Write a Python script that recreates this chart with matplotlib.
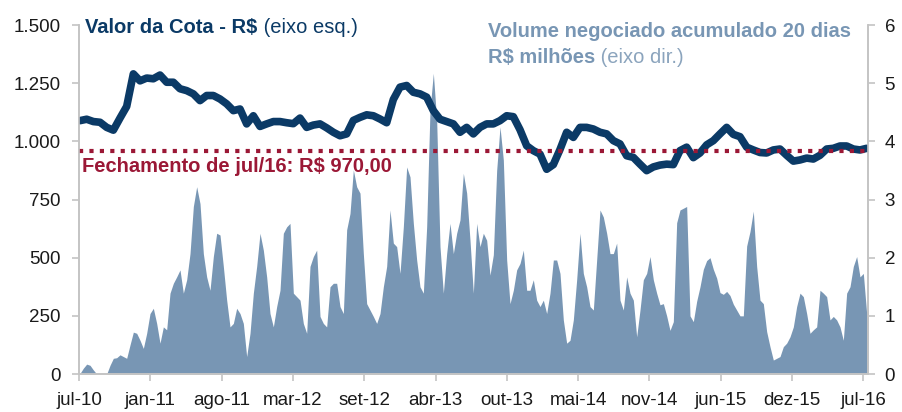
import numpy as np
import matplotlib
matplotlib.use('Agg')
import matplotlib.pyplot as plt
from matplotlib.ticker import FuncFormatter

plt.rcParams['font.family'] = ['Liberation Sans', 'DejaVu Sans']

# volume negociado acumulado 20 dias (R$ milhoes), amostras igualmente espacadas
volume = [
    0.01, 0.1, 0.17, 0.15, 0.07, 0.0, 0.0, 0.0, 0.0, 0.15,
    0.27, 0.28, 0.33, 0.3, 0.27, 0.5, 0.72, 0.7, 0.58, 0.44,
    0.7, 1.04, 1.13, 0.87, 0.53, 0.81, 0.76, 1.39, 1.56, 1.67,
    1.79, 1.39, 1.62, 2.07, 2.88, 3.22, 2.93, 2.07, 1.67, 1.44,
    2.02, 2.42, 2.39, 1.85, 1.27, 0.81, 0.87, 1.13, 1.04, 0.87,
    0.3, 0.7, 1.39, 1.85, 2.42, 2.13, 1.67, 1.04, 0.81,
    1.16, 1.44, 2.42, 2.53, 2.59, 1.39, 1.33, 1.27, 0.87, 0.7,
    1.85, 2.02, 2.13, 0.99, 0.87, 0.81, 1.5, 1.56, 1.56, 1.16,
    1.04, 2.48, 2.76, 3.51, 3.22, 3.11, 2.07, 1.21, 1.1, 0.99,
    0.87, 1.04, 1.5, 1.85, 2.82, 2.25, 2.19, 1.73, 2.53, 3.56,
    3.39, 2.59, 1.96, 1.5, 1.39, 2.53, 4.54, 5.17, 4.37, 2.19,
    1.39, 2.07, 2.59, 2.07, 2.42, 2.65, 3.45, 3.11,
    2.3, 1.39, 2.59, 2.19, 2.42, 2.3, 1.7, 2.05, 3.5, 4.25,
    3.68, 1.96, 1.21, 1.44, 1.79, 1.9, 2.13, 1.44, 1.44, 1.62,
    1.27, 1.16, 1.27, 1.04, 1.39, 1.96, 1.96, 1.73, 0.93, 0.53,
    0.58, 0.93, 1.62, 2.42, 1.73, 1.5, 1.16, 1.1, 1.96, 2.82,
    2.7, 2.42, 2.07, 2.07, 2.25, 1.27, 1.1, 1.67, 1.39, 1.27,
    0.64, 1.1, 1.62, 1.73, 2.02, 1.62, 1.39, 1.19,
    1.21, 1.0, 0.75, 0.9, 2.6, 2.82, 2.85, 2.88, 1.0, 0.9,
    1.25, 1.5, 1.8, 1.95, 2.0, 1.8, 1.65, 1.4, 1.37, 1.42,
    1.35, 1.2, 1.1, 1.0, 1.0, 2.2, 2.45, 2.8, 1.85, 1.27,
    1.21, 0.73, 0.47, 0.24, 0.27, 0.3, 0.47, 0.53, 0.64, 0.81,
    1.16, 1.39, 1.33, 1.04, 0.7, 0.76, 0.81, 1.44, 1.39, 1.33,
    0.93, 0.99, 0.93, 0.81, 0.58, 1.39, 1.5, 1.85, 2.02, 1.67,
    1.73, 1.04, 1.21,
]

# valor da cota (R$), uma leitura a cada 2 amostras de volume
cota = [
    1089, 1095, 1085, 1082, 1060, 1048, 1100, 1150, 1290, 1260,
    1272, 1269, 1285, 1254, 1254, 1226, 1218, 1204, 1175, 1197,
    1197, 1182, 1161, 1132, 1139, 1075, 1110, 1064, 1075, 1085,
    1085, 1080, 1076, 1100, 1060, 1070, 1075, 1058, 1039, 1024,
    1032, 1090, 1103, 1114, 1110, 1096, 1080, 1180, 1233, 1240,
    1211, 1204, 1190, 1132, 1095, 1085,
    1075, 1039, 1060, 1032, 1060, 1075, 1075, 1089, 1110, 1106,
    1050, 981, 960, 945, 880, 900, 965, 1039, 1017, 1060,
    1060, 1053, 1039, 1032, 1003, 989, 938, 931, 902, 874,
    890, 898, 902, 900, 960, 975, 930, 950, 985, 1003,
    1032, 1060, 1030, 1020, 975, 963, 952, 950, 963, 967,
    940, 915, 920, 928, 924, 940, 967, 970, 980, 980,
    967, 963, 970,
]

fechamento = 960
tick_labels = ['jul-10', 'jan-11', 'ago-11', 'mar-12', 'set-12', 'abr-13',
               'out-13', 'mai-14', 'nov-14', 'jun-15', 'dez-15', 'jul-16']

navy = '#0b3a66'
steel = '#7896b4'
red = '#9b1836'
grey = '#c4c4c4'

vol_x = np.arange(len(volume))
cota_x = np.arange(len(cota)) * 2

fig = plt.figure(figsize=(9.02, 4.12), dpi=100)
ax = fig.add_axes([0.0876, 0.0922, 0.8747, 0.8471])
ax2 = ax.twinx()
ax.set_zorder(ax2.get_zorder() + 1)
ax.patch.set_visible(False)

ax2.fill_between(vol_x, volume, 0, color=steel, lw=0)
ax.plot(cota_x, cota, color=navy, lw=5.5, solid_joinstyle='round', solid_capstyle='round')
ax.axhline(fechamento, color=red, lw=3, dashes=(1, 1.5), dash_capstyle='butt')

ax.set_xlim(-0.3, 236.4)
ax.set_ylim(0, 1500)
ax2.set_ylim(0, 6)
ax.set_yticks(np.arange(0, 1501, 250))
ax2.set_yticks(np.arange(0, 7, 1))
ax.yaxis.set_major_formatter(FuncFormatter(lambda v, p: f'{int(v):,}'.replace(',', '.')))
ax.set_xticks(np.linspace(-0.3, 235.0, 12))
ax.set_xticklabels(tick_labels)

for a in (ax, ax2):
    for s in a.spines.values():
        s.set_color(grey)
        s.set_linewidth(1.2)
    a.spines['top'].set_visible(False)
    a.tick_params(colors=grey, labelcolor='#1a1a1a', labelsize=13.5, width=1.2, length=5)
ax.tick_params(axis='y', pad=8)
ax2.tick_params(axis='y', pad=7)
ax.tick_params(axis='x', pad=8)

t1 = ax.text(0.008, 0.992, 'Valor da Cota - R$', transform=ax.transAxes, color=navy,
             fontsize=14.5, fontweight='bold', va='center', ha='left')
ax.annotate(' (eixo esq.)', xy=(1, 0), xycoords=t1, va='bottom', ha='left',
            color=navy, fontsize=14.5)

t2 = ax.text(0.518, 0.98, 'Volume negociado acumulado 20 dias', transform=ax.transAxes,
             color=steel, fontsize=14.5, fontweight='bold', va='center', ha='left')
t3 = ax.text(0.518, 0.906, 'R$ milhões', transform=ax.transAxes,
             color=steel, fontsize=14.5, fontweight='bold', va='center', ha='left')
ax.annotate(' (eixo dir.)', xy=(1, 0), xycoords=t3, va='bottom', ha='left',
            color='#8ba4bd', fontsize=14.5)

ax.text(0.004, 0.596, 'Fechamento de jul/16: R$ 970,00', transform=ax.transAxes,
        color=red, fontsize=14.5, fontweight='bold', va='center', ha='left')

fig.savefig('out.png', dpi=100)
